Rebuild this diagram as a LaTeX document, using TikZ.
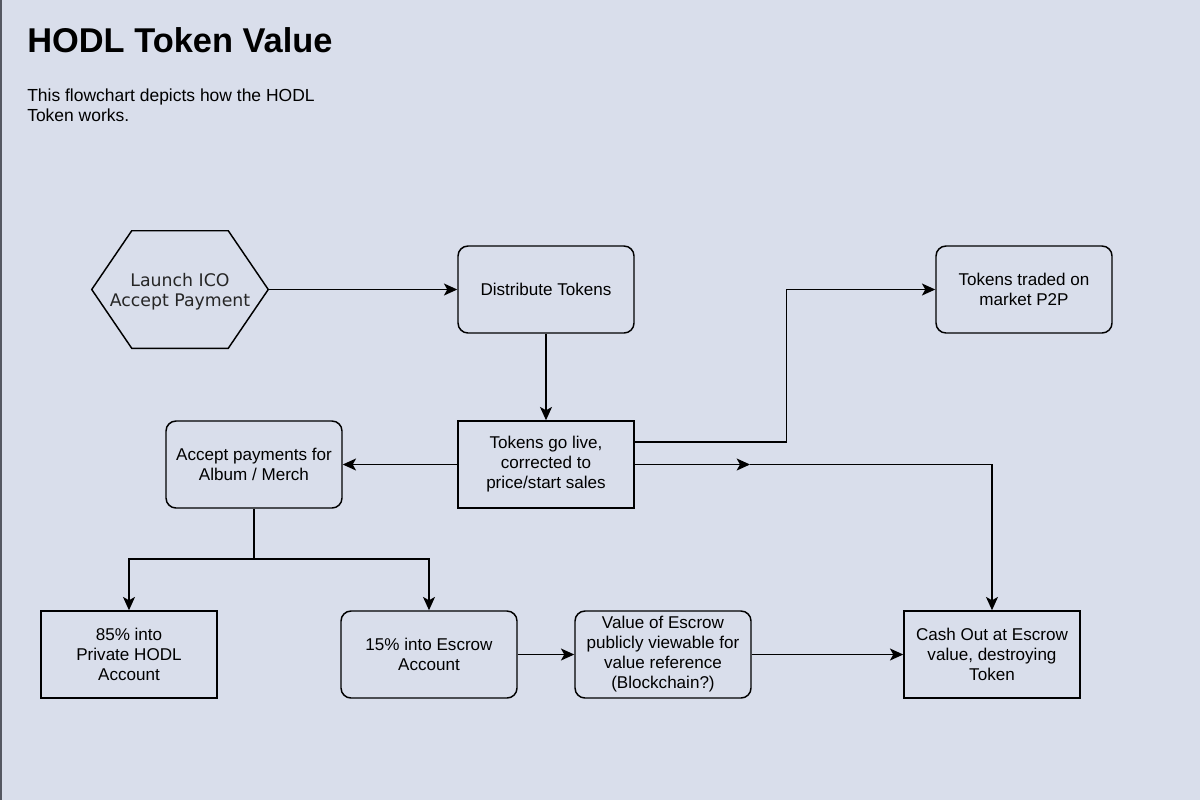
\documentclass[tikz,border=0pt]{standalone}
\usepackage{fontspec}
\setmainfont{Liberation Sans}
\newfontfamily\hexfont{DejaVu Sans}
\usetikzlibrary{arrows.meta}
\definecolor{bgc}{RGB}{217,222,235}
\definecolor{edgec}{RGB}{85,88,98}
\begin{document}
\begin{tikzpicture}[x=0.75pt,y=-0.75pt,
  box/.style={draw, line width=1.1pt, minimum width=132pt, minimum height=65.25pt,
    align=center, inner sep=0pt, font=\fontsize{12.8}{15}\selectfont},
  rbox/.style={box, rounded corners=7.5pt},
  link/.style={line width=1.1pt, -{Stealth[length=10pt,width=9pt,inset=2.5pt]}},
  plain/.style={line width=1.1pt},
  titletext/.style={anchor=base west, inner sep=0pt, font=\fontsize{25.8}{30}\selectfont\bfseries},
  subtext/.style={anchor=base west, inner sep=0pt, font=\fontsize{13.1}{15}\selectfont}]
\useasboundingbox (0,0) rectangle (1200,800);
\fill[bgc] (0,0) rectangle (1200,800);
\draw[edgec, line width=1.5pt] (1,0) -- (1,800);

\node[titletext] (title) at (27,52) {HODL Token Value};
\node[subtext] (sub1) at (27,101) {This flowchart depicts how the HODL};
\node[subtext] (sub2) at (27,121) {Token works.};

% hexagon
\node[minimum width=132pt, minimum height=87.75pt, inner sep=0pt] (hex) at (180,289.5) {};
\draw[plain] (hex.west) -- ([xshift=30pt]hex.north west) -- ([xshift=-30pt]hex.north east)
  -- (hex.east) -- ([xshift=-30pt]hex.south east) -- ([xshift=30pt]hex.south west) -- cycle;
\node[inner sep=0pt, align=center, font=\hexfont\fontsize{13}{15}\selectfont, text=black!85]
  (hextext) at (180,291.5) {Launch ICO\\Accept Payment};

\node[rbox] (dist) at (546,289.5) {Distribute Tokens};
\node[rbox] (traded) at (1024,289.5) {Tokens traded on\\market P2P};
\node[box] (live) at (546,464.5) {Tokens go live,\\corrected to\\price/start sales};
\node[rbox] (accept) at (254,464.5) {Accept payments for\\Album / Merch};
\node[box] (p85) at (129,654.5) {85\% into\\Private HODL\\Account};
\node[rbox] (p15) at (429,654.5) {15\% into Escrow\\Account};
\node[rbox] (value) at (663,654.5) {Value of Escrow\\publicly viewable for\\value reference\\(Blockchain?)};
\node[box] (cash) at (992,654.5) {Cash Out at Escrow\\value, destroying\\Token};

\coordinate (mid) at (750,464.5);
\coordinate (split) at (254,559);

\draw[link] (hex.east) -- (dist.west);
\draw[link] (dist.south) -- (live.north);
\draw[link] ([yshift=16.9pt]live.east) -- ++(152,0) |- (traded.west);
\draw[link] (live.east) -- (mid);
\draw[link] (mid) -| (cash.north);
\draw[link] (live.west) -- (accept.east);
\draw[plain] (accept.south) -- (split);
\draw[link] (split) -| (p85.north);
\draw[link] (split) -| (p15.north);
\draw[link] (p15.east) -- (value.west);
\draw[link] (value.east) -- (cash.west);
\end{tikzpicture}
\end{document}
